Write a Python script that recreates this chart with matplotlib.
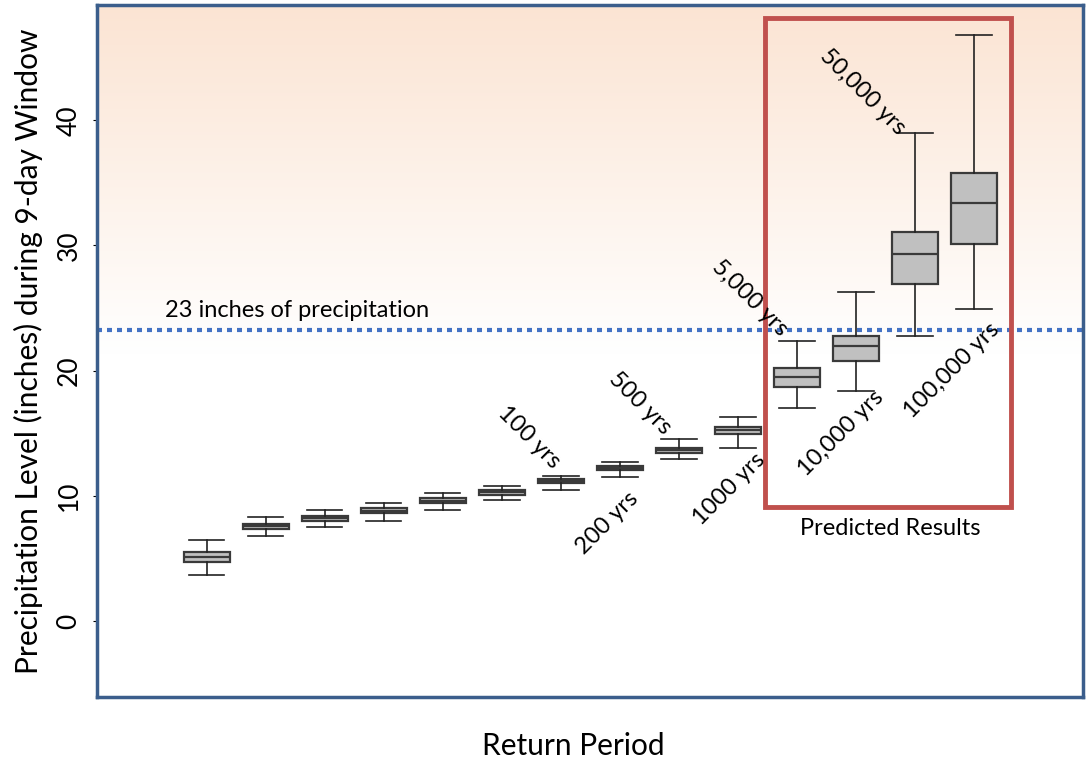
import numpy as np
import matplotlib.pyplot as plt
from matplotlib.colors import LinearSegmentedColormap
from matplotlib.patches import Rectangle

plt.rcParams['font.family'] = ['Lato', 'DejaVu Sans']

# ============================================================
# Data
# ============================================================

positions = np.arange(1, 15)
whis_lo = [3.7, 6.8, 7.5, 8.0, 8.9, 9.7, 10.5, 11.5, 12.9, 13.8, 17.0, 18.4, 22.8, 24.9]
box_lo  = [4.7, 7.35, 8.0, 8.65, 9.45, 10.1, 11.05, 12.05, 13.45, 14.95, 18.7, 20.8, 26.9, 30.1]
median  = [5.1, 7.55, 8.2, 8.8, 9.6, 10.3, 11.2, 12.2, 13.65, 15.25, 19.5, 22.0, 29.3, 33.4]
box_hi  = [5.5, 7.75, 8.4, 9.0, 9.8, 10.5, 11.35, 12.35, 13.85, 15.5, 20.2, 22.8, 31.1, 35.8]
whis_hi = [6.5, 8.3, 8.9, 9.4, 10.2, 10.8, 11.6, 12.7, 14.5, 16.3, 22.4, 26.3, 39.0, 46.8]

threshold = 23.25
threshold_label = "23 inches of precipitation"

period_labels = ["100 yrs", "200 yrs", "500 yrs", "1000 yrs",
                 "5,000 yrs", "10,000 yrs", "50,000 yrs", "100,000 yrs"]
label_x = [6.47, 7.78, 8.34, 9.86, 10.2, 11.75, 12.12, 13.63]
label_y = [14.7, 7.8, 17.4, 10.5, 25.8, 15.0, 42.3, 20.0]
label_rot = [-45, 45, -45, 45, -45, 45, -45, 45]

# ============================================================
# Figure
# ============================================================

fig = plt.figure(figsize=(10.86, 7.61), dpi=100)
ax = fig.add_axes([0.0893, 0.0841, 0.908, 0.909])

xmin, xmax = -0.86, 15.85
ymin, ymax = -6.07, 49.18
ax.set_xlim(xmin, xmax)
ax.set_ylim(ymin, ymax)

# peach gradient above the threshold line
cmap = LinearSegmentedColormap.from_list("peach", ["#ffffff", "#fbe4d3"])
grad = np.linspace(0, 1, 256).reshape(-1, 1)
ax.imshow(grad, cmap=cmap, aspect="auto", origin="lower",
          extent=[xmin, xmax, threshold - 2, ymax], zorder=0)

stats = []
for i in range(len(positions)):
    stats.append(dict(whislo=whis_lo[i], q1=box_lo[i], med=median[i],
                      q3=box_hi[i], whishi=whis_hi[i], fliers=[]))

ax.bxp(stats, positions=positions, widths=0.78, patch_artist=True,
       showfliers=False,
       boxprops=dict(facecolor="#c0c0c0", edgecolor="#3a3a3a", linewidth=1.6),
       medianprops=dict(color="#3a3a3a", linewidth=1.6),
       whiskerprops=dict(color="#222222", linewidth=1.2),
       capprops=dict(color="#222222", linewidth=1.2),
       capwidths=0.6, zorder=3)

# threshold line
ax.axhline(threshold, color="#4472c4", linestyle=(0, (1.2, 1.2)), linewidth=3, zorder=2)
ax.text(0.29, threshold + 0.7, threshold_label, fontsize=17, ha="left", va="bottom")

# predicted results box
ax.add_patch(Rectangle((10.46, 9.1), 14.63 - 10.46, 48.14 - 9.1, fill=False,
                       edgecolor="#c0504d", linewidth=3.5, zorder=4))
ax.text(12.59, 7.4, "Predicted Results", fontsize=17, ha="center", va="center")

for txt, x, y, r in zip(period_labels, label_x, label_y, label_rot):
    ax.text(x, y, txt, fontsize=17, rotation=r, rotation_mode="anchor",
            ha="center", va="center", zorder=5)

# axes styling
ax.set_xticks([])
ax.set_yticks([0, 10, 20, 30, 40])
ax.tick_params(axis="y", length=3, labelsize=19, pad=8)
for lab in ax.get_yticklabels():
    lab.set_rotation(90)
    lab.set_va("center")
for s in ax.spines.values():
    s.set_color("#3b5e8c")
    s.set_linewidth(2.5)

ax.set_ylabel("Precipitation Level (inches) during 9-day Window", fontsize=21.5, labelpad=10)
fig.text(573 / 1086, 1 - 746 / 761, "Return Period", fontsize=21.5, ha="center", va="center")

fig.savefig("out.png", dpi=100)
